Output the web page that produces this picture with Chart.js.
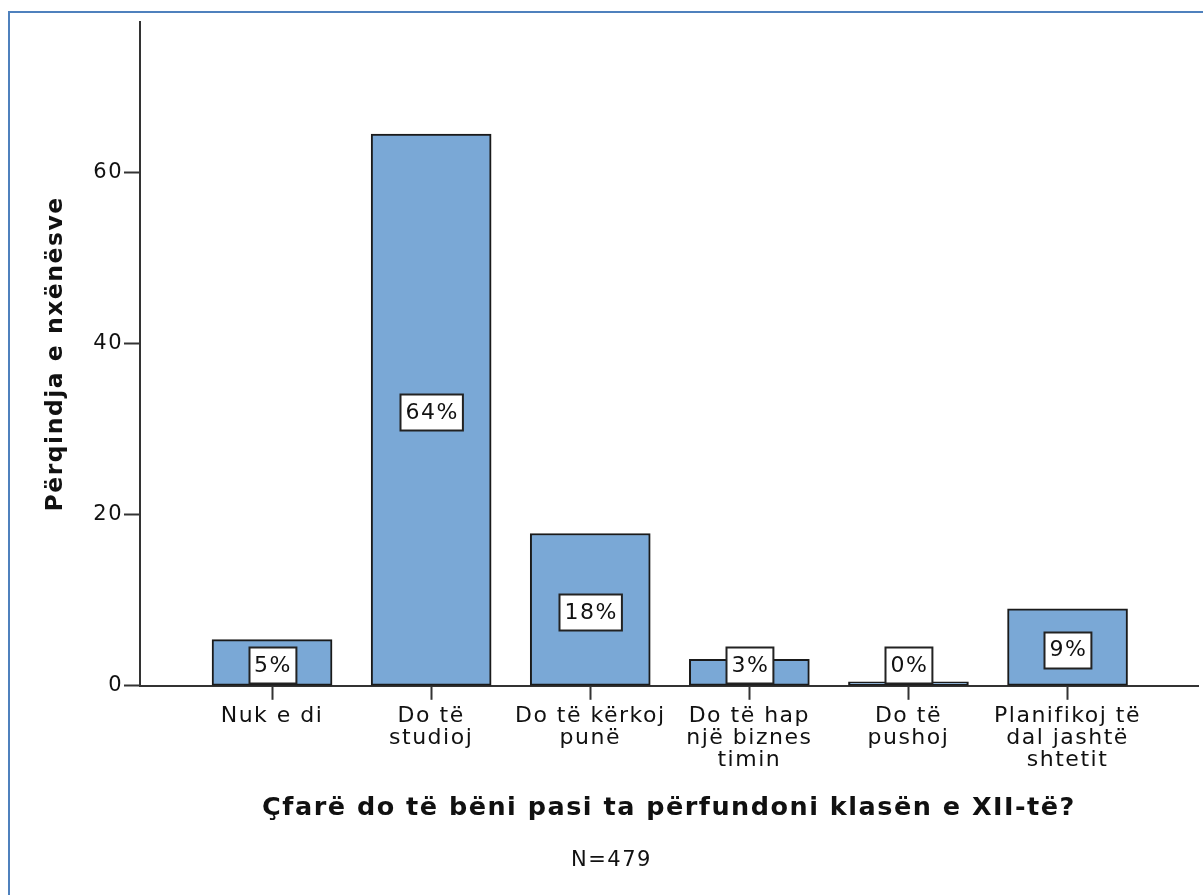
<!DOCTYPE html>
<html>
<head>
<meta charset="utf-8">
<script src="https://cdn.jsdelivr.net/npm/chart.js@4/dist/chart.umd.min.js"></script>
<style>
  html, body { margin: 0; padding: 0; background: #fff; overflow: hidden; }
  #frame {
    position: absolute; left: 8px; top: 11px; width: 1400px; height: 1100px;
    border: 2px solid #4f81bd; box-sizing: border-box;
  }
  #wrap { position: absolute; left: 0; top: 0; width: 1203px; height: 895px; }
</style>
</head>
<body>
<div id="frame"></div>
<div id="wrap"><canvas id="chart" width="1203" height="895"></canvas></div>
<script>
// categories (x-axis), wrapped as in the picture
const categories = [
  ['Nuk e di'],
  ['Do të', 'studioj'],
  ['Do të kërkoj', 'punë'],
  ['Do të hap', 'një biznes', 'timin'],
  ['Do të', 'pushoj'],
  ['Planifikoj të', 'dal jashtë', 'shtetit']
];
// percent of students
const percents = [5.4, 64.5, 17.8, 3.1, 0.2, 9.0];
const percentLabels = ['5%', '64%', '18%', '3%', '0%', '9%'];
const yTicks = [0, 20, 40, 60];

const textColor = '#111';
const axisColor = '#333';
const spacing = '1.5px';

// the original text is a bit wider spaced
const letterSpacing = {
  id: 'letterSpacing',
  beforeUpdate(chart) { chart.ctx.letterSpacing = spacing; },
  beforeDraw(chart) { chart.ctx.letterSpacing = spacing; }
};

// white label boxes in the middle of each bar
const labelBoxes = {
  id: 'labelBoxes',
  afterDatasetsDraw(chart) {
    const ctx = chart.ctx;
    const meta = chart.getDatasetMeta(0);
    ctx.save();
    ctx.font = '22px "DejaVu Sans"';
    ctx.textAlign = 'center';
    ctx.textBaseline = 'middle';
    meta.data.forEach((bar, i) => {
      const text = percentLabels[i];
      const w = ctx.measureText(text).width + 9;
      const h = 36;
      let cy = (bar.y + bar.base) / 2 + 2.5;
      if (cy + h / 2 > bar.base - 2) cy = bar.base - 2 - h / 2;
      const x0 = Math.round(bar.x - w / 2) + 0.5;
      const y0 = Math.round(cy - h / 2) + 0.5;
      ctx.fillStyle = '#fff';
      ctx.fillRect(x0, y0, w, h);
      ctx.strokeStyle = '#222';
      ctx.lineWidth = 2;
      ctx.strokeRect(x0, y0, w, h);
      ctx.fillStyle = textColor;
      ctx.fillText(text, bar.x + 1, cy + 1);
    });
    ctx.restore();
  }
};

const data = {
  datasets: [{
    data: percents.map((v, i) => ({ x: i + 1, y: v })),
    backgroundColor: '#7aa8d6',
    borderColor: '#1a1a1a',
    borderWidth: 2,
    borderSkipped: false,
    barThickness: 120,
    minBarLength: 4
  }]
};

const config = {
  type: 'bar',
  data: data,
  options: {
    responsive: false,
    animation: false,
    layout: { padding: { top: 22, left: 25, right: 5, bottom: 0 } },
    plugins: {
      legend: { display: false },
      tooltip: { enabled: false },
      title: {
        display: true,
        position: 'bottom',
        text: 'N=479',
        color: textColor,
        font: { family: 'DejaVu Sans', size: 21, weight: 'normal' },
        padding: { top: 12, bottom: 22 }
      }
    },
    scales: {
      x: {
        type: 'linear',
        offset: false,
        min: 0.17,
        max: 6.82,
        afterBuildTicks: (scale) => {
          scale.ticks = categories.map((c, i) => ({ value: i + 1 }));
        },
        afterFit: (scale) => { scale.height = 150; },
        grid: {
          offset: false,
          drawOnChartArea: false,
          drawTicks: true,
          tickLength: 14,
          tickColor: axisColor,
          tickWidth: 2
        },
        border: { display: true, color: axisColor, width: 2 },
        ticks: {
          autoSkip: false,
          maxRotation: 0,
          padding: 5,
          color: textColor,
          font: { family: 'DejaVu Sans', size: 22, lineHeight: 1.0 },
          callback: (v) => categories[v - 1]
        },
        title: {
          display: true,
          text: 'Çfarë do të bëni pasi ta përfundoni klasën e XII-të?',
          color: textColor,
          font: { family: 'DejaVu Sans', size: 25.5, weight: 'bold' },
          padding: { top: 0, bottom: 12 }
        }
      },
      y: {
        min: 0,
        max: 77.6,
        afterBuildTicks: (scale) => {
          scale.ticks = yTicks.map(v => ({ value: v }));
        },
        afterFit: (scale) => { scale.width = 115; },
        grid: {
          drawOnChartArea: false,
          drawTicks: true,
          tickLength: 16,
          tickColor: axisColor,
          tickWidth: 2
        },
        border: { display: true, color: axisColor, width: 2 },
        ticks: {
          padding: 1,
          color: textColor,
          font: { family: 'DejaVu Sans', size: 21 }
        },
        title: {
          display: true,
          text: 'Përqindja e nxënësve',
          color: textColor,
          font: { family: 'DejaVu Sans', size: 23.5, weight: 'bold' },
          padding: { top: 17, bottom: 0 }
        }
      }
    }
  },
  plugins: [letterSpacing, labelBoxes]
};

const chart = new Chart(document.getElementById('chart'), config);
</script>
</body>
</html>
